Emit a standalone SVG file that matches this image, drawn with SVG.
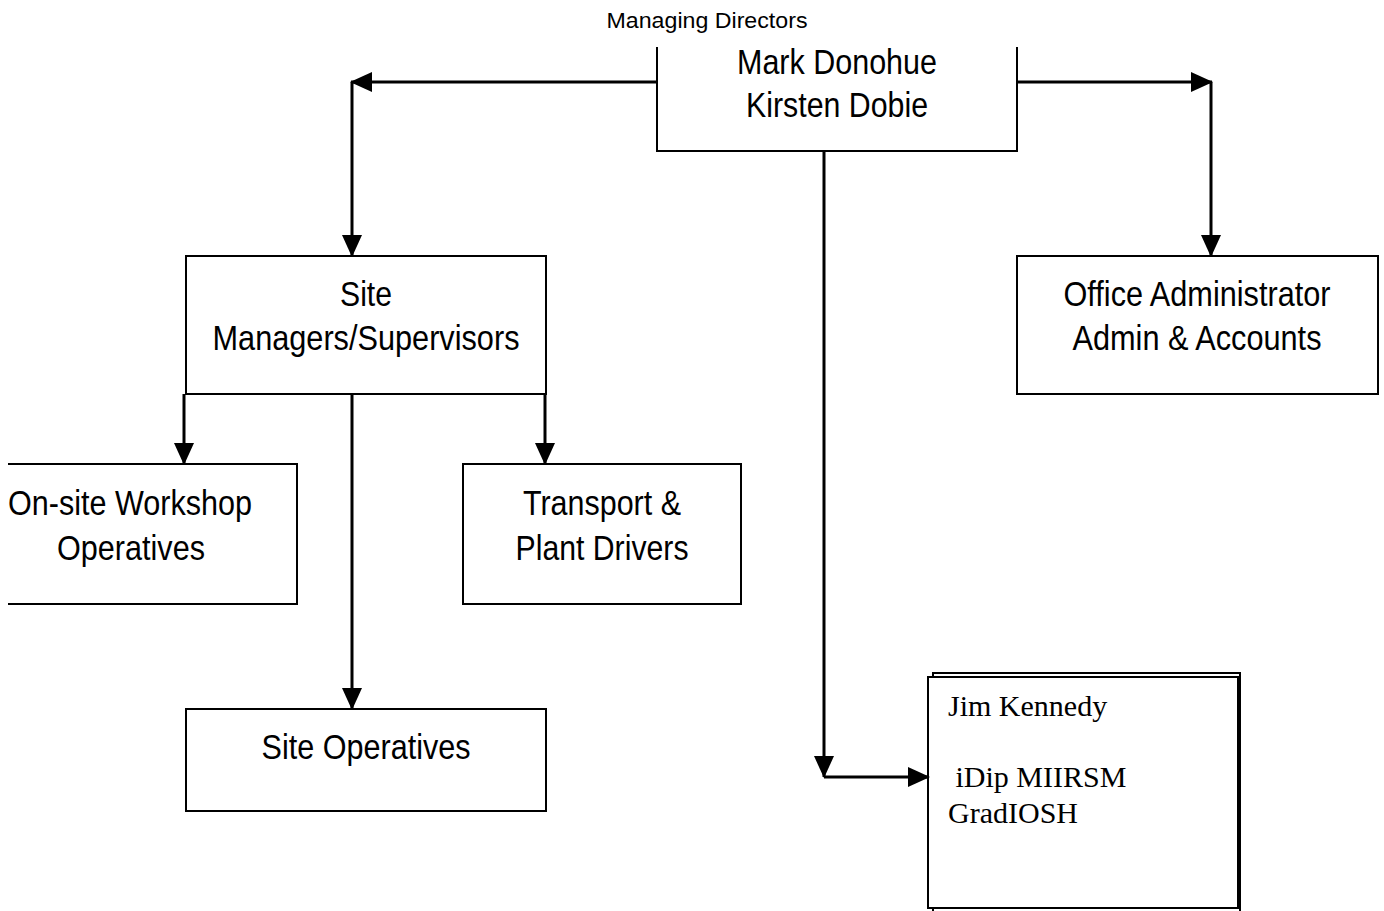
<svg xmlns="http://www.w3.org/2000/svg" width="1384" height="911" viewBox="0 0 1384 911">
<style>
.box{fill:#fff;stroke:#000;stroke-width:2}
.lbl{font-family:"Liberation Sans",Arial,sans-serif;font-size:35px;fill:#000;text-anchor:middle}
.ser{font-family:"Liberation Serif","Times New Roman",serif;font-size:30px;fill:#000}
.con{fill:none;stroke:#000;stroke-width:3}
</style>
<defs>
<marker id="ah" viewBox="0 0 22 20" refX="21" refY="10" markerWidth="22" markerHeight="20" markerUnits="userSpaceOnUse" orient="auto">
<path d="M0,0 L22,10 L0,20 z" fill="#000"/>
</marker>
</defs>
<rect width="1384" height="911" fill="#fff"/>
<text x="707" y="28" style="font-family:'Liberation Sans',Arial,sans-serif;font-size:22px;text-anchor:middle" textLength="201" lengthAdjust="spacingAndGlyphs">Managing Directors</text>

<g id="directors">
<path d="M657,47 V151 H1017 V47" class="box"/>
<text class="lbl" x="837" y="74" textLength="200" lengthAdjust="spacingAndGlyphs">Mark Donohue</text>
<text class="lbl" x="837" y="117" textLength="182" lengthAdjust="spacingAndGlyphs">Kirsten Dobie</text>
</g>

<g id="site-managers">
<rect x="186" y="256" width="360" height="138" class="box"/>
<text class="lbl" x="366" y="306" textLength="52" lengthAdjust="spacingAndGlyphs">Site</text>
<text class="lbl" x="366" y="350" textLength="307" lengthAdjust="spacingAndGlyphs">Managers/Supervisors</text>
</g>

<g id="office-admin">
<rect x="1017" y="256" width="361" height="138" class="box"/>
<text class="lbl" x="1197" y="306" textLength="267" lengthAdjust="spacingAndGlyphs">Office Administrator</text>
<text class="lbl" x="1197" y="350" textLength="249" lengthAdjust="spacingAndGlyphs">Admin &amp; Accounts</text>
</g>

<g id="workshop">
<path d="M8,464 H297 V604 H8" class="box"/>
<text class="lbl" x="130" y="515" textLength="244" lengthAdjust="spacingAndGlyphs">On-site Workshop</text>
<text class="lbl" x="131" y="560" textLength="148" lengthAdjust="spacingAndGlyphs">Operatives</text>
</g>

<g id="transport">
<rect x="463" y="464" width="278" height="140" class="box"/>
<text class="lbl" x="602" y="515" textLength="158" lengthAdjust="spacingAndGlyphs">Transport &amp;</text>
<text class="lbl" x="602" y="560" textLength="173" lengthAdjust="spacingAndGlyphs">Plant Drivers</text>
</g>

<g id="site-operatives">
<rect x="186" y="709" width="360" height="102" class="box"/>
<text class="lbl" x="366" y="759" textLength="209" lengthAdjust="spacingAndGlyphs">Site Operatives</text>
</g>

<g id="jim-kennedy">
<rect x="933" y="673" width="307" height="240" class="box"/>
<rect x="928" y="677" width="310" height="231" class="box"/>
<text class="ser" x="948" y="716">Jim Kennedy</text>
<text class="ser" x="948" y="787" xml:space="preserve"> iDip MIIRSM</text>
<text class="ser" x="948" y="823">GradIOSH</text>
</g>

<g id="connectors">
<path d="M657,82 H351" class="con" marker-end="url(#ah)"/>
<path d="M352,82 V256" class="con" marker-end="url(#ah)"/>
<path d="M1017,82 H1212" class="con" marker-end="url(#ah)"/>
<path d="M1211,82 V256" class="con" marker-end="url(#ah)"/>
<path d="M824,151 V777" class="con" marker-end="url(#ah)"/>
<path d="M824,777 H929" class="con" marker-end="url(#ah)"/>
<path d="M184,394 V464" class="con" marker-end="url(#ah)"/>
<path d="M545,394 V464" class="con" marker-end="url(#ah)"/>
<path d="M352,394 V709" class="con" marker-end="url(#ah)"/>
</g>
</svg>
